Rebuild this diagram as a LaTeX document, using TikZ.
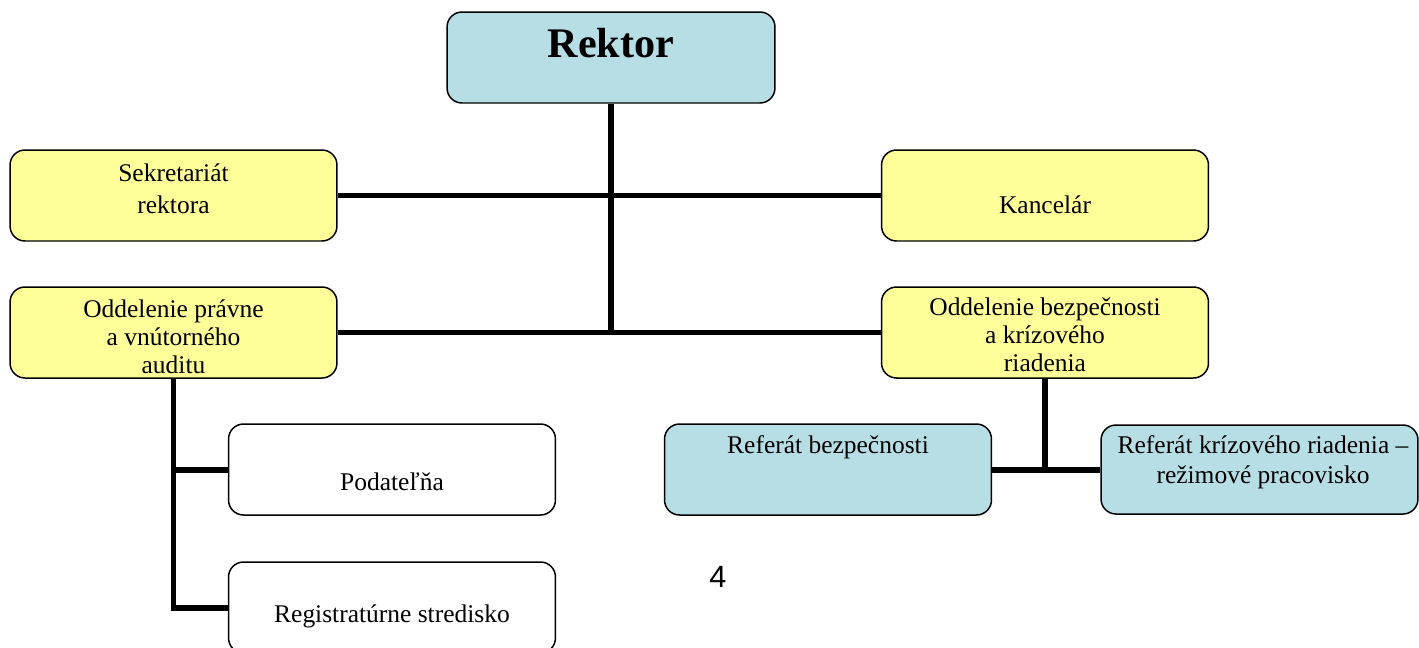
\documentclass[tikz,border=0pt]{standalone}
\usepackage{fontspec}
\setmainfont{Liberation Serif}
\newfontfamily\pagefont{Liberation Sans}
\definecolor{boxyellow}{RGB}{255,255,153}
\definecolor{boxblue}{RGB}{183,222,228}

\begin{document}
\begin{tikzpicture}[x=0.02cm, y=-0.02cm,
			orgbox/.style={draw, rounded corners=0.3cm, line width=0.85pt,
				minimum width=6.54cm, minimum height=1.82cm, inner sep=0pt},
			ybox/.style={orgbox, fill=boxyellow},
			bbox/.style={orgbox, fill=boxblue},
			wbox/.style={orgbox, fill=white},
			txt/.style={inner sep=0pt, align=center, font=\fontsize{14.5}{18.5}\selectfont},
			conn/.style={line width=3.4pt}]
	\useasboundingbox (0,0) rectangle (1419,647);
	\node[bbox, minimum width=6.56cm] (rektor) at (611,57.5) {};
	\node[ybox] (sekr) at (173.5,195.5) {};
	\node[ybox] (kanc) at (1045,195.5) {};
	\node[ybox] (opra) at (173.5,332.5) {};
	\node[ybox] (obez) at (1045,332.5) {};
	\node[wbox] (podat) at (392,469.5) {};
	\node[wbox] (regis) at (392,607.5) {};
	\node[bbox] (rbez) at (828,469.5) {};
	\node[bbox, minimum width=6.34cm, minimum height=1.78cm] (rkriz) at (1259.5,469.5) {};
	\draw[conn] (rektor.south) -- (rektor.south |- opra.east);
	\draw[conn] (sekr.east) -- (kanc.west);
	\draw[conn] (opra.east) -- (obez.west);
	\draw[conn] (opra.south) -- (opra.south |- regis.west) -- (regis.west);
	\draw[conn] (opra.south |- podat.west) -- (podat.west);
	\draw[conn] (obez.south) -- (obez.south |- rbez.east);
	\draw[conn] (rbez.east) -- (rkriz.west);
	\node[txt, anchor=base, font=\fontsize{24}{28}\selectfont\bfseries] (rektor-t) at (611,57) {Rektor};
	\node[txt, anchor=north] (sekr-t) at (173.5,158.2) {\strut Sekretariát\\\strut rektora};
	\node[txt, anchor=base] (kanc-t) at (1045,213) {Kancelár};
	\node[txt, anchor=north, font=\fontsize{14.5}{16}\selectfont] (opra-t) at (173.5,297)
		{\strut Oddelenie právne\\\strut a vnútorného\\\strut auditu};
	\node[txt, anchor=north, font=\fontsize{14.5}{16}\selectfont] (obez-t) at (1045,295.5)
		{\strut Oddelenie bezpečnosti\\\strut a krízového\\\strut riadenia};
	\node[txt, anchor=base] (podat-t) at (392,490) {Podateľňa};
	\node[txt, anchor=base] (regis-t) at (392,622) {Registratúrne stredisko};
	\node[txt, anchor=base] (rbez-t) at (828,453) {Referát bezpečnosti};
	\node[txt, anchor=north, font=\fontsize{14.5}{17}\selectfont] (rkriz-t) at (1263,432)
		{\strut Referát krízového riadenia –\\\strut režimové pracovisko};
	\node[inner sep=0pt, anchor=base, font=\pagefont\fontsize{17.5}{20}\selectfont] (page) at (718,587) {4};
\end{tikzpicture}
\end{document}
